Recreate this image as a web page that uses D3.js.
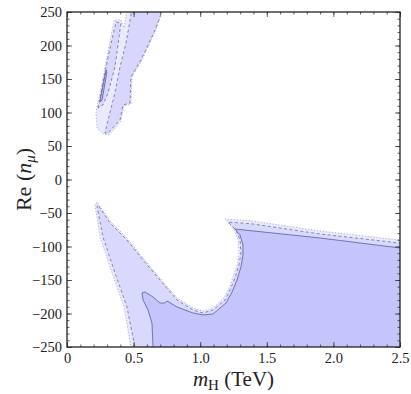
<!DOCTYPE html>
<html>
<head>
<meta charset="utf-8">
<script src="https://cdn.jsdelivr.net/npm/d3@7"></script>
<style>
body { margin: 0; background: #fff; }
text { font-family: "Liberation Serif", "DejaVu Serif", serif; fill: #222; }
</style>
</head>
<body>
<svg width="411" height="394"></svg>
<script>
var svg = d3.select("svg");

// tick values
var xTicks = [0, 0.5, 1.0, 1.5, 2.0, 2.5];
var xTickLabels = ["0", "0.5", "1.0", "1.5", "2.0", "2.5"];
var yTicks = [-250, -200, -150, -100, -50, 0, 50, 100, 150, 200, 250];

// contour regions, [m_H (TeV), Re(n_mu)]
var upperOuter = [[0.225, 76.9], [0.218, 100.7], [0.248, 129.1], [0.300, 182.8], [0.353, 238.1],
  [0.405, 238.1], [0.428, 226.1], [0.458, 262], [0.706, 262], [0.706, 247], [0.668, 223.1],
  [0.563, 178.4], [0.488, 153], [0.480, 112.7], [0.428, 109.7], [0.405, 87.3], [0.315, 66.4],
  [0.270, 67.9]];
var upperLeft = [[0.233, 106.7], [0.255, 129.1], [0.308, 182.8], [0.368, 235.1], [0.405, 233.6],
  [0.360, 167.9], [0.308, 129.1], [0.270, 111.2]];
var upperRight = [[0.495, 262], [0.706, 262], [0.706, 247], [0.661, 223.1], [0.556, 178.4],
  [0.480, 153], [0.473, 114.2], [0.420, 111.2], [0.398, 88.8], [0.308, 69.4], [0.285, 69.4],
  [0.308, 88.8], [0.360, 129.1], [0.398, 167.9], [0.443, 203.7]];
var upperCore = [[0.293, 163.4], [0.300, 160.4], [0.263, 118.7], [0.248, 115.7], [0.255, 124.6]];

var lowerOuter = [[0.48, -265], [0.48, -250], [0.428, -190.3], [0.323, -130.6], [0.248, -85.8],
  [0.210, -38], [0.225, -33.6], [0.323, -61.9], [0.450, -87.3], [0.571, -117.2], [0.698, -147],
  [0.826, -176.9], [0.946, -191.8], [1.021, -196.3], [1.096, -191.8], [1.179, -176.9],
  [1.216, -161.9], [1.246, -145.5], [1.276, -127.6], [1.291, -109.7], [1.284, -90.3],
  [1.254, -75.4], [1.186, -58.9], [1.396, -61.9], [1.899, -76.9], [2.5, -90.3], [2.6, -90],
  [2.6, -265]];
var lowerMid = [[0.51, -265], [0.51, -250], [0.450, -190.3], [0.345, -130.6], [0.270, -85.8],
  [0.225, -39.5], [0.233, -38], [0.323, -64.9], [0.450, -90.3], [0.571, -120.1], [0.698, -150],
  [0.826, -179.8], [0.946, -194.8], [1.021, -199.2], [1.096, -194.8], [1.186, -179.8],
  [1.224, -164.9], [1.261, -147], [1.291, -127.6], [1.306, -109.7], [1.299, -90.3],
  [1.269, -75.4], [1.209, -63.4], [1.396, -66.4], [1.899, -81.3], [2.5, -94.8], [2.6, -95],
  [2.6, -265]];
var lowerCore = [[0.646, -265], [0.646, -250], [0.638, -214.2], [0.608, -194.8], [0.571, -179.8],
  [0.563, -169.4], [0.586, -167.9], [0.646, -175.4], [0.698, -184.3], [0.736, -184.3],
  [0.751, -181.3], [0.826, -190.3], [0.946, -199.2], [1.021, -202.2], [1.096, -200.7],
  [1.194, -184.3], [1.239, -167.9], [1.276, -150], [1.306, -130.6], [1.321, -112.7],
  [1.321, -97.8], [1.299, -82.8], [1.261, -73.9], [1.899, -87.3], [2.5, -102.2], [2.6, -103],
  [2.6, -265]];

var pL = 67, pR = 400, pT = 12, pB = 347;
var x = d3.scaleLinear().domain([0, 2.5]).range([pL, pR]);
var y = d3.scaleLinear().domain([-250, 250]).range([pB, pT]);

svg.append("defs").append("clipPath").attr("id", "plot")
  .append("rect").attr("x", pL).attr("y", pT)
  .attr("width", pR - pL).attr("height", pB - pT);

var line = d3.line()
  .x(function (d) { return x(d[0]); })
  .y(function (d) { return y(d[1]); })
  .curve(d3.curveLinearClosed);

// drawn back to front
var layers = [
  { pts: upperOuter, fill: "#eaeaff", stroke: "#a2a2c4", dash: "1.2,1.8" },
  { pts: upperLeft, fill: "#d7d7fd", stroke: "#6e6e90", dash: "3,2.5" },
  { pts: upperRight, fill: "#d7d7fd", stroke: "#6e6e90", dash: "3,2.5" },
  { pts: upperCore, fill: "#c4c4f8", stroke: "#5858a0", dash: null },
  { pts: lowerOuter, fill: "#e8e8ff", stroke: "#a2a2c4", dash: "1.2,1.8" },
  { pts: lowerMid, fill: "#d9d9fe", stroke: "#6e6e90", dash: "3,2.5" },
  { pts: lowerCore, fill: "#c5c5fb", stroke: "#5a5aa0", dash: null }
];

var g = svg.append("g").attr("clip-path", "url(#plot)");
g.selectAll("path")
  .data(layers)
  .enter().append("path")
  .attr("d", function (d) { return line(d.pts); })
  .attr("fill", function (d) { return d.fill; })
  .attr("stroke", function (d) { return d.stroke; })
  .attr("stroke-width", 0.8)
  .attr("stroke-dasharray", function (d) { return d.dash; });

// ticks on all four sides, pointing in
var xMinor = d3.range(0, 2.5001, 0.1);
var yMinor = d3.range(-250, 250.001, 10);

function ticks(axis, pos, vals, size, labels) {
  var a = svg.append("g").attr("transform", pos)
    .call(axis.tickValues(vals).tickSize(-size).tickPadding(6)
      .tickFormat(labels ? function (d, i) { return labels(d, i); } : ""));
  a.select(".domain").remove();
  a.selectAll("line").attr("stroke", "#333").attr("stroke-width", 0.8);
  return a;
}

ticks(d3.axisBottom(x), "translate(0," + pB + ")", xMinor, 2.5);
ticks(d3.axisTop(x), "translate(0," + pT + ")", xMinor, 2.5);
ticks(d3.axisLeft(y), "translate(" + pL + ",0)", yMinor, 2.5);
ticks(d3.axisRight(y), "translate(" + pR + ",0)", yMinor, 2.5);

var xa = ticks(d3.axisBottom(x), "translate(0," + pB + ")", xTicks, 5,
  function (d, i) { return xTickLabels[i]; });
ticks(d3.axisTop(x), "translate(0," + pT + ")", xTicks, 5);
var ya = ticks(d3.axisLeft(y), "translate(" + pL + ",0)", yTicks, 5,
  function (d) { return d < 0 ? "\u2212" + Math.abs(d) : String(d); });
ticks(d3.axisRight(y), "translate(" + pR + ",0)", yTicks, 5);

xa.selectAll("text").attr("font-size", "14.5px").attr("font-family", "Liberation Serif").attr("fill", "#222");
ya.selectAll("text").attr("font-size", "14.5px").attr("font-family", "Liberation Serif").attr("fill", "#222")
  .attr("dx", "1");

// frame
svg.append("rect")
  .attr("x", pL).attr("y", pT)
  .attr("width", pR - pL).attr("height", pB - pT)
  .attr("fill", "none").attr("stroke", "#222").attr("stroke-width", 1.3);

// axis titles
var xt = svg.append("text")
  .attr("x", (pL + pR) / 2).attr("y", 386)
  .attr("text-anchor", "middle").attr("font-size", "21px");
xt.append("tspan").attr("font-style", "italic").text("m");
xt.append("tspan").attr("font-size", "15px").attr("dy", "4").text("H");
xt.append("tspan").attr("dy", "-4").text(" (TeV)");

var yt = svg.append("text")
  .attr("transform", "translate(31," + ((pT + pB) / 2) + ") rotate(-90)")
  .attr("text-anchor", "middle").attr("font-size", "22px");
yt.append("tspan").text("Re (");
yt.append("tspan").attr("font-style", "italic").text("n");
yt.append("tspan").attr("font-style", "italic").attr("font-size", "15px").attr("dy", "4").text("\u03bc");
yt.append("tspan").attr("dy", "-4").text(")");
</script>
</body>
</html>
